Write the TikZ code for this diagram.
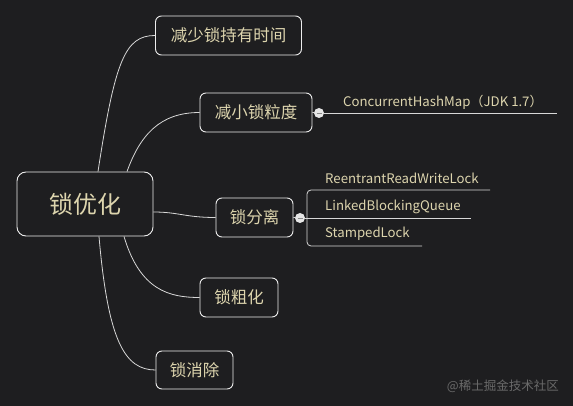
\documentclass[tikz,border=0pt]{standalone}
\usepackage{fontspec}
\setmainfont{Noto Sans CJK SC}
\usetikzlibrary{calc}
\definecolor{bgc}{HTML}{1E1E20}
\definecolor{txt}{HTML}{DDD5AE}
\definecolor{edge}{HTML}{D8D8D8}
\definecolor{boxline}{HTML}{EDEDED}
\definecolor{knobfill}{HTML}{E6E6E6}
\definecolor{knobmark}{HTML}{8A8A8A}
\definecolor{wm}{HTML}{6A6A6A}
\tikzset{
  topic/.style={draw=boxline, line width=0.9pt, rounded corners=6pt, fill=bgc, text=txt, inner sep=0pt, font=\fontsize{16.5}{18}\selectfont},
  rootbox/.style={topic, rounded corners=9pt, font=\fontsize{24}{26}\selectfont},
  branch/.style={draw=edge, line width=0.8pt},
  leaf/.style={text=txt, inner sep=0pt, anchor=west, font=\fontsize{13.2}{15}\selectfont},
  knob/.style={circle, fill=knobfill, inner sep=0pt, minimum size=10pt},
}
\begin{document}
\begin{tikzpicture}[x=1pt,y=-1pt]
\fill[bgc] (0,0) rectangle (573,406);
\useasboundingbox (0,0) rectangle (573,406);

\node[rootbox, minimum width=136pt, minimum height=64pt] (root) at (85,204) {锁优化};
\node[topic, minimum width=146pt, minimum height=39pt] (t1) at (228.5,35.5) {减少锁持有时间};
\node[topic, minimum width=112pt, minimum height=39pt] (t2) at (256,112.5) {减小锁粒度};
\node[topic, minimum width=77pt, minimum height=39pt] (t3) at (254.5,217.5) {锁分离};
\node[topic, minimum width=78pt, minimum height=39pt] (t4) at (239,297.5) {锁粗化};
\node[topic, minimum width=77pt, minimum height=38pt] (t5) at (194.5,370) {锁消除};

\draw[branch] ([xshift=13pt]root.north) .. controls +(17,-111) and +(-30,0) .. (t1.west);
\draw[branch] ([xshift=42pt]root.north) .. controls +(13,-36) and +(-40,0) .. (t2.west);
\draw[branch] ([yshift=-8pt]root.east) .. controls +(25,0) and +(-30,0) .. (t3.west);
\draw[branch] ([xshift=39pt]root.south) .. controls +(16,54) and +(-30,0) .. (t4.west);
\draw[branch] ([xshift=14pt]root.south) .. controls +(9,104) and +(-31,0) .. (t5.west);

% 减小锁粒度 subtree
\coordinate (e1) at (557,113);
\node[knob] (k1) at (319,113) {};
\draw[branch] (t2.east) -- (k1);
\draw[branch] (k1) -- (e1);
\draw[knobmark, line width=0.8pt] ([xshift=-2.5pt]k1.center) -- ([xshift=2.5pt]k1.center);
\node[leaf] (l1) at (343,102) {ConcurrentHashMap（JDK 1.7）};

% 锁分离 subtree
\node[knob] (k2) at (300,218) {};
\coordinate (b1) at (490,190);
\coordinate (b2) at (307,190);
\coordinate (b3) at (307,246);
\coordinate (b4) at (422,246);
\coordinate (e2) at (471,218);
\draw[branch] (t3.east) -- (k2);
\draw[branch] (k2) -- (e2);
\draw[branch, rounded corners=4pt] (b1) -- (b2) -- (b3) -- (b4);
\draw[knobmark, line width=0.8pt] ([xshift=-2.5pt]k2.center) -- ([xshift=2.5pt]k2.center);
\node[leaf] (l2) at (325,178) {ReentrantReadWriteLock};
\node[leaf] (l3) at (325,206.5) {LinkedBlockingQueue};
\node[leaf] (l4) at (325,234) {StampedLock};

\node[text=wm, inner sep=0pt, anchor=east, font=\fontsize{12.5}{14}\selectfont] (wmk) at (559,386) {@稀土掘金技术社区};
\end{tikzpicture}
\end{document}
